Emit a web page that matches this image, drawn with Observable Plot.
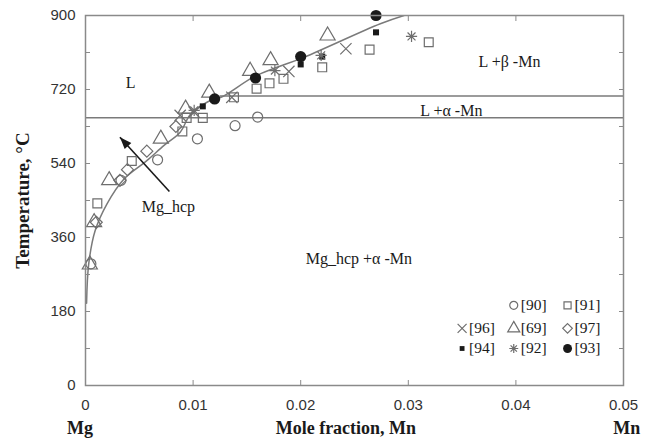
<!DOCTYPE html>
<html>
<head>
<meta charset="utf-8">
<script src="https://cdn.jsdelivr.net/npm/d3@7"></script>
<script src="https://cdn.jsdelivr.net/npm/@observablehq/plot@0.6"></script>
<style>
  html, body { margin: 0; padding: 0; background: #fff; }
</style>
</head>
<body>
<div id="chart"></div>
<script>
// Mg-rich corner of the Mg–Mn phase diagram: calculated boundaries and measured points.

// Measured points [mole fraction Mn, temperature °C], one array per source.
const ref90 = [[0.0005, 296], [0.0033, 499], [0.0067, 549], [0.0104, 600], [0.0139, 632], [0.0160, 653]];
const ref91 = [[0.0011, 443], [0.0043, 546], [0.0090, 618], [0.0094, 651], [0.0109, 651], [0.0138, 701],
               [0.0159, 722], [0.0171, 735], [0.0184, 746], [0.0220, 774], [0.0264, 817], [0.0319, 835]];
const ref96 = [[0.0088, 657], [0.0101, 665], [0.0136, 701], [0.0189, 764], [0.0242, 819]];
const ref69 = [[0.0004, 294], [0.0008, 397], [0.0022, 499], [0.0070, 600], [0.0093, 673], [0.0115, 712],
               [0.0153, 765], [0.0172, 791], [0.0225, 851]];
const ref97 = [[0.0010, 397], [0.0032, 499], [0.0039, 525], [0.0057, 570], [0.0084, 630]];
const ref94 = [[0.0109, 679], [0.0200, 781], [0.0220, 800], [0.0270, 859]];
const ref92 = [[0.0101, 669], [0.0176, 766], [0.0219, 803], [0.0303, 849]];
const ref93 = [[0.0120, 697], [0.0158, 748], [0.0200, 800], [0.0270, 900]];

// Calculated solvus / liquidus of Mg_hcp and L.
const curveX = [0.0001, 0.0003, 0.0009, 0.0020, 0.0036, 0.0057, 0.0073, 0.0088, 0.0098, 0.0119,
                0.0126, 0.0156, 0.0178, 0.0200, 0.0274, 0.0296];
const curveT = [200, 296, 377, 442, 503, 547, 584, 616, 661, 697, 701, 750, 774, 795, 880, 900];

// Invariant lines: temperature and the composition where each starts.
const invariantT = [651, 704];
const invariantFrom = [0, 0.0125];

// Region labels.
const regionText = ["L", "L +β -Mn", "L +α -Mn", "Mg_hcp", "Mg_hcp +α -Mn"];
const regionX = [0.0042, 0.0394, 0.0340, 0.0077, 0.0254];
const regionT = [737, 786, 669, 434, 309];

// Arrow pointing from the Mg_hcp label into its field.
const arrowFrom = [0.0078, 472];
const arrowTo = [0.0032, 604];

// Axis ticks and labels.
const xTicks = [0, 0.01, 0.02, 0.03, 0.04, 0.05];
const yTicks = [0, 90, 180, 270, 360, 450, 540, 630, 720, 810, 900];
const yLabelStep = 180;
const bottomText = ["Mg", "Mole fraction, Mn", "Mn"];
const bottomX = [-0.0005, 0.0242, 0.0503];
const yTitle = "Temperature, °C";

// Layout
const W = 653, H = 441, ML = 85, MR = 30, MT = 15, MB = 56;
const serif = "'Liberation Serif', 'Times New Roman', serif";
const sans = "'Liberation Sans', Arial, sans-serif";
const gray = "#7a7a7a";
const ink = "#1a1a1a";

// Eight-armed asterisk.
const asterisk8 = {
  draw(ctx, size) {
    const r = Math.sqrt(size / Math.PI), d = r * Math.SQRT1_2;
    ctx.moveTo(-r, 0); ctx.lineTo(r, 0);
    ctx.moveTo(0, -r); ctx.lineTo(0, r);
    ctx.moveTo(-d, -d); ctx.lineTo(d, d);
    ctx.moveTo(-d, d); ctx.lineTo(d, -d);
  }
};
// Arrow head with its tip at the origin, pointing up.
const arrowHead = {
  draw(ctx) {
    ctx.moveTo(0, 0); ctx.lineTo(-4.5, 12); ctx.lineTo(4.5, 12); ctx.closePath();
  }
};

// Series: data, symbol and legend slot (column, row).
const series = [
  {key: "[90]", data: ref90, symbol: "circle",   filled: false, r: 5,   col: 1, row: 0},
  {key: "[91]", data: ref91, symbol: "square",   filled: false, r: 5,   col: 2, row: 0},
  {key: "[96]", data: ref96, symbol: "times",    filled: false, r: 5.2, col: 0, row: 1},
  {key: "[69]", data: ref69, symbol: "triangle", filled: false, r: 5.6, col: 1, row: 1},
  {key: "[97]", data: ref97, symbol: "diamond2", filled: false, r: 5.4, col: 2, row: 1},
  {key: "[94]", data: ref94, symbol: "square",   filled: true,  r: 3.4, col: 0, row: 2},
  {key: "[92]", data: ref92, symbol: asterisk8,  filled: false, r: 5.6, col: 1, row: 2},
  {key: "[93]", data: ref93, symbol: "circle",   filled: true,  r: 5.6, col: 2, row: 2}
];
const legendColX = [0.0350, 0.0398, 0.0448];
const legendRowT = [195, 139, 90];

const curve = curveX.map((x, i) => ({x, T: curveT[i]}));
const invariants = invariantT.map((T, i) => ({T, from: invariantFrom[i], to: 0.05}));
const regions = regionText.map((text, i) => ({text, x: regionX[i], T: regionT[i]}));
const bottomLabels = bottomText.map((text, i) => ({text, x: bottomX[i]}));
const arrow = [{x1: arrowFrom[0], y1: arrowFrom[1], x2: arrowTo[0], y2: arrowTo[1]}];

// Screen-space angle of the arrow, for orienting its head.
const kx = (W - ML - MR) / 0.05, ky = (H - MT - MB) / 900;
const adx = (arrowTo[0] - arrowFrom[0]) * kx, ady = -(arrowTo[1] - arrowFrom[1]) * ky;
const arrowAngle = Math.atan2(adx, -ady) * 180 / Math.PI;

const seriesMarks = series.flatMap(s => {
  const style = s.filled
    ? {fill: ink, stroke: "none"}
    : {fill: "none", stroke: "#6e6e6e", strokeWidth: 1.2};
  const pts = s.data.map(([x, T]) => ({x, T}));
  const leg = [{x: legendColX[s.col], T: legendRowT[s.row], key: s.key}];
  return [
    Plot.dot(pts, {x: "x", y: "T", symbol: () => s.symbol, r: s.r, ...style}),
    Plot.dot(leg, {x: "x", y: "T", symbol: () => s.symbol, r: s.r * 0.8, ...style}),
    Plot.text(leg, {x: "x", y: "T", text: "key", dx: 7, textAnchor: "start",
                    fontFamily: serif, fontSize: 15.5, fill: ink})
  ];
});

const chart = Plot.plot({
  width: W, height: H,
  marginLeft: ML, marginRight: MR, marginTop: MT, marginBottom: MB,
  style: {background: "#fff", overflow: "visible"},
  x: {domain: [0, 0.05]},
  y: {domain: [0, 900]},
  marks: [
    // invariant lines and calculated boundary
    Plot.ruleY(invariants, {y: "T", x1: "from", x2: "to", stroke: gray, strokeWidth: 1.5}),
    Plot.line(curve, {x: "x", y: "T", curve: "catmull-rom", stroke: gray, strokeWidth: 1.5, clip: true}),
    // arrow
    Plot.link(arrow, {x1: "x1", y1: "y1", x2: "x2", y2: "y2", stroke: ink, strokeWidth: 1.6}),
    Plot.dot(arrow, {x: "x2", y: "y2", symbol: () => arrowHead, rotate: arrowAngle, fill: ink, stroke: "none"}),
    // region labels
    Plot.text(regions, {x: "x", y: "T", text: "text", fontFamily: serif, fontSize: 16, fill: ink}),
    ...seriesMarks,
    // frame and inward ticks
    Plot.frame({stroke: "#8a8a8a", strokeWidth: 1.5}),
    Plot.axisX(xTicks.slice(1, -1), {anchor: "bottom", tickSize: -5, tickFormat: () => "", color: "#8a8a8a", label: null}),
    Plot.axisX(xTicks.slice(1, -1), {anchor: "top", tickSize: -5, tickFormat: () => "", color: "#8a8a8a", label: null}),
    Plot.axisY(yTicks.slice(1, -1), {anchor: "left", tickSize: -5, tickFormat: () => "", color: "#8a8a8a", label: null}),
    Plot.axisY(yTicks.slice(1, -1), {anchor: "right", tickSize: -5, tickFormat: () => "", color: "#8a8a8a", label: null}),
    // tick labels
    Plot.axisX(xTicks, {anchor: "bottom", tickSize: 0, tickPadding: 14, color: "#333",
      tickFormat: d => d === 0 ? "0" : d.toFixed(2), fontFamily: sans, fontSize: 15, label: null}),
    Plot.axisY(yTicks.filter(d => d % yLabelStep === 0), {anchor: "left", tickSize: 0, tickPadding: 10, color: "#333",
      fontFamily: sans, fontSize: 15, label: null}),
    // axis titles
    Plot.text([yTitle], {text: d => d, frameAnchor: "left", textAnchor: "middle", dx: -63, rotate: -90,
      fontFamily: serif, fontWeight: "bold", fontSize: 19, fill: ink}),
    Plot.text(bottomLabels, {x: "x", text: "text", frameAnchor: "bottom", dy: 48,
      fontFamily: serif, fontWeight: "bold", fontSize: 18, fill: ink})
  ]
});

document.getElementById("chart").appendChild(chart);
</script>
</body>
</html>
